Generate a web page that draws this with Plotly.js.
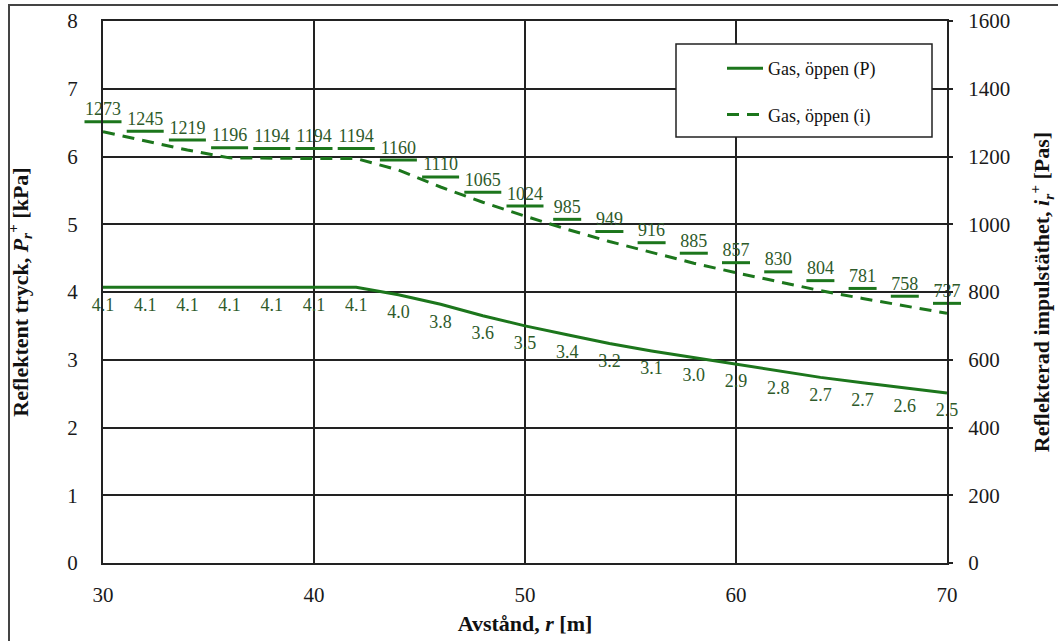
<!DOCTYPE html>
<html>
<head>
<meta charset="utf-8">
<script src="https://cdn.plot.ly/plotly-3.0.1.min.js"></script>
<style>
  html, body { margin: 0; padding: 0; background: #fff; overflow: hidden; }
  #chart { width: 1058px; height: 641px; }
  #frame { position: absolute; left: 8px; top: 4px; width: 1200px; height: 800px;
           border-left: 2px solid #444; border-top: 2px solid #444; pointer-events: none; }
</style>
</head>
<body>
<div id="chart"></div>
<div id="frame"></div>
<script>
// ---- data ----
const distance = [30, 32, 34, 36, 38, 40, 42, 44, 46, 48, 50, 52, 54, 56, 58, 60, 62, 64, 66, 68, 70];
const pressure = [4.07, 4.07, 4.07, 4.07, 4.07, 4.07, 4.07, 3.96, 3.82, 3.65, 3.50, 3.37, 3.24, 3.13, 3.03, 2.94, 2.84, 2.74, 2.66, 2.58, 2.51];
const pressureLabels = ['4.1', '4.1', '4.1', '4.1', '4.1', '4.1', '4.1', '4.0', '3.8', '3.6', '3.5', '3.4', '3.2', '3.1', '3.0', '2.9', '2.8', '2.7', '2.7', '2.6', '2.5'];
const impulse = [1273, 1245, 1219, 1196, 1194, 1194, 1194, 1160, 1110, 1065, 1024, 985, 949, 916, 885, 857, 830, 804, 781, 758, 737];
const impulseLabels = impulse.map(String);
const xTicks = [30, 40, 50, 60, 70];

// ---- styling ----
const green = '#1c761c';
const labelColor = '#2e5a2a';
const serif = 'Liberation Serif, Times New Roman, serif';
const gridColor = '#222';

// plot-area geometry (px) used to shift label axes
const plotH = 641 - 21 - 78;
const pxToLeft = px => px / plotH * 8;
const pxToRight = px => px / plotH * 1600;

const traces = [
  {
    x: distance, y: pressure, yaxis: 'y', mode: 'lines',
    name: 'Gas, öppen (P)', legendgroup: 'p',
    line: {color: green, width: 3}, hoverinfo: 'skip'
  },
  {
    x: distance, y: impulse, yaxis: 'y2', mode: 'lines',
    name: 'Gas, öppen (i)', legendgroup: 'i',
    line: {color: green, width: 3, dash: '12px,8px'}, hoverinfo: 'skip'
  },
  {
    x: distance, y: impulse, yaxis: 'y3', mode: 'markers', showlegend: false,
    cliponaxis: false, hoverinfo: 'skip',
    marker: {symbol: 'line-ew', size: impulseLabels.map(s => (s.length * 9 + 1) / 1.4),
             opacity: 1, color: green, line: {color: green, width: 3}}
  },
  {
    x: distance, y: impulse, yaxis: 'y4', mode: 'text', text: impulseLabels,
    textposition: 'middle center', showlegend: false, cliponaxis: false, hoverinfo: 'skip',
    textfont: {family: serif, size: 18, color: labelColor}
  },
  {
    x: distance, y: pressure, yaxis: 'y5', mode: 'text', text: pressureLabels,
    textposition: 'middle center', showlegend: false, cliponaxis: false, hoverinfo: 'skip',
    textfont: {family: serif, size: 18, color: labelColor}
  }
];

const tickFont = {family: serif, size: 21, color: '#1a1a1a'};
const titleFont = {family: serif, size: 22, color: '#111', weight: 'bold'};

const lx0 = (676 - 103) / 844, lx1 = (932 - 103) / 844;
const ly1 = (563 - 44) / plotH, ly0 = (563 - 137) / plotH;

const layout = {
  width: 1058, height: 641,
  margin: {l: 103, r: 111, t: 21, b: 78, pad: 0},
  paper_bgcolor: '#fff', plot_bgcolor: '#fff',
  showlegend: true,
  hovermode: false,
  xaxis: {
    range: [30, 70], tickvals: xTicks, ticktext: xTicks.map(String),
    showgrid: true, gridcolor: gridColor, gridwidth: 2,
    showline: true, linecolor: gridColor, linewidth: 2, mirror: true,
    zeroline: false, ticks: '', ticklabelstandoff: 12, tickfont: tickFont,
    title: {text: 'Avstånd, <i>r</i> [m]', font: titleFont, standoff: 9}
  },
  yaxis: {
    range: [0, 8], dtick: 1, tick0: 0,
    showgrid: true, gridcolor: gridColor, gridwidth: 2,
    showline: true, linecolor: gridColor, linewidth: 2, mirror: true,
    zeroline: false, ticks: '', ticklabelstandoff: 19, tickfont: tickFont,
    title: {text: 'Reflektent tryck, <i>P<sub>r</sub><sup>+</sup></i> [kPa]', font: titleFont, standoff: 33}
  },
  yaxis2: {
    range: [0, 1600], dtick: 200, tick0: 0, overlaying: 'y', side: 'right', anchor: 'x',
    showgrid: false, zeroline: false, showline: false,
    ticks: 'outside', ticklen: 5, tickwidth: 2, tickcolor: gridColor,
    ticklabelstandoff: 11, tickfont: tickFont,
    title: {text: 'Reflekterad impulstäthet, <i>i<sub>r</sub><sup>+</sup></i> [Pas]', font: titleFont, standoff: 24}
  },
  yaxis3: {range: [-pxToRight(10), 1600 - pxToRight(10)], overlaying: 'y', visible: false, anchor: 'x'},
  yaxis4: {range: [-pxToRight(21), 1600 - pxToRight(21)], overlaying: 'y', visible: false, anchor: 'x'},
  yaxis5: {range: [pxToLeft(19), 8 + pxToLeft(19)], overlaying: 'y', visible: false, anchor: 'x'},
  legend: {
    x: (722 - 103) / 844, y: (563 - 50) / plotH, xanchor: 'left', yanchor: 'top',
    bgcolor: 'rgba(0,0,0,0)', borderwidth: 0,
    font: {family: serif, size: 18, color: '#111'},
    tracegroupgap: 20, itemwidth: 36
  },
  shapes: [
    {type: 'rect', xref: 'paper', yref: 'paper', x0: lx0, x1: lx1, y0: ly0, y1: ly1,
     line: {color: '#222', width: 1.5}, fillcolor: '#fff', layer: 'above'}
  ]
};

Plotly.newPlot('chart', traces, layout, {displayModeBar: false, staticPlot: true});
</script>
</body>
</html>
